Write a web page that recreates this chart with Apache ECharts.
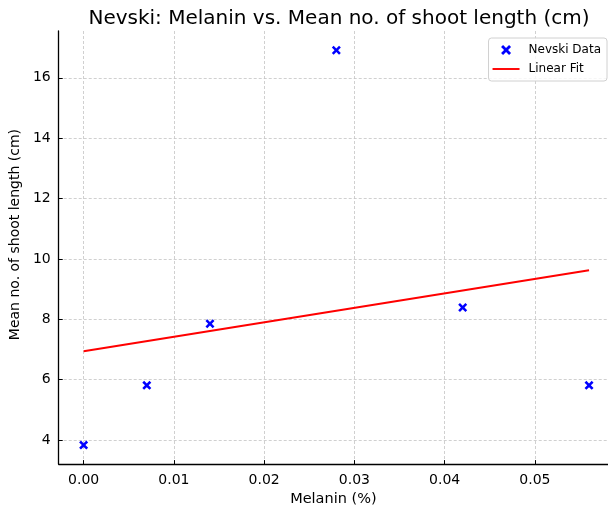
<!DOCTYPE html>
<html>
<head>
<meta charset="utf-8">
<script src="https://cdn.jsdelivr.net/npm/echarts@6/dist/echarts.min.js"></script>
<style>
	html, body { margin: 0; padding: 0; background: #fff; }
	#chart { width: 608px; height: 512px; }
</style>
</head>
<body>
<div id="chart"></div>
<script>
var melanin = [0, 0.007, 0.014, 0.028, 0.042, 0.056];
var shootLength = [3.83, 5.81, 7.85, 16.91, 8.39, 5.81];
var fitX = [0, 0.056];
var fitY = [6.94, 9.62];
var xTicks = [0, 0.01, 0.02, 0.03, 0.04, 0.05];
var yTicks = [4, 6, 8, 10, 12, 14, 16];

var font = 'DejaVu Sans';
var crossPath = 'path://M2,0L5,3L8,0L10,2L7,5L10,8L8,10L5,7L2,10L0,8L3,5L0,2Z';
var linePath = 'path://M0,0H28V2H0Z';

var mainChart = echarts.init(document.getElementById('chart'));

var gridLine = {
	show: true,
	lineStyle: { color: '#c4c4c4', type: [3, 2], width: 0.8 }
};

var chartOption = {
	animation: false,
	backgroundColor: '#fff',
	title: {
		text: 'Nevski: Melanin vs. Mean no. of shoot length (cm)',
		left: 334,
		textAlign: 'center',
		top: 4,
		textStyle: { fontFamily: font, fontSize: 20, fontWeight: 'normal', color: '#000' }
	},
	legend: {
		orient: 'vertical',
		right: 1,
		top: 38,
		padding: [6, 6, 6, 4],
		itemGap: 7,
		itemWidth: 27,
		itemHeight: 10,
		borderColor: '#d0d0d0',
		borderWidth: 1,
		borderRadius: 3,
		backgroundColor: 'rgba(255,255,255,0.8)',
		textStyle: { fontFamily: font, fontSize: 12, color: '#000', padding: [0, 0, 0, 4] },
		data: [
			{ name: 'Nevski Data', icon: crossPath },
			{ name: 'Linear Fit', icon: linePath }
		]
	},
	grid: {
		left: 56,
		right: 0,
		top: 31,
		bottom: 43,
		containLabel: false
	},
	xAxis: {
		type: 'value',
		min: -0.00276,
		max: 0.0581,
		name: 'Melanin (%)',
		nameLocation: 'middle',
		nameGap: 27,
		nameTextStyle: { fontFamily: font, fontSize: 14.5, color: '#000' },
		axisLine: { show: true, onZero: false, lineStyle: { color: '#000', width: 1.3 } },
		axisTick: { show: true, inside: true, length: 4, customValues: xTicks, lineStyle: { color: '#000' } },
		axisLabel: {
			customValues: xTicks,
			margin: 9,
			fontFamily: font, fontSize: 14, color: '#000',
			formatter: function (v) { return v.toFixed(2); }
		},
		splitLine: gridLine
	},
	yAxis: {
		type: 'value',
		min: 3.2,
		max: 17.55,
		name: 'Mean no. of shoot length (cm)',
		nameLocation: 'middle',
		nameGap: 36,
		nameTextStyle: { fontFamily: font, fontSize: 14, color: '#000', padding: [0, 0, 0, 26] },
		axisLine: { show: true, onZero: false, lineStyle: { color: '#000', width: 1.3 } },
		axisTick: { show: true, inside: true, length: 4, customValues: yTicks, lineStyle: { color: '#000' } },
		axisLabel: {
			customValues: yTicks,
			margin: 8,
			fontFamily: font, fontSize: 14, color: '#000'
		},
		splitLine: gridLine
	},
	series: [{
			name: 'Nevski Data',
			type: 'scatter',
			symbol: crossPath,
			symbolSize: 9,
			itemStyle: { color: '#0000ff', opacity: 1 },
			data: melanin.map(function (x, i) { return [x, shootLength[i]]; }),
			z: 3
		}, {
			name: 'Linear Fit',
			type: 'line',
			showSymbol: false,
			symbol: 'none',
			lineStyle: { color: '#ff0000', width: 2 },
			itemStyle: { color: '#ff0000' },
			data: fitX.map(function (x, i) { return [x, fitY[i]]; }),
			z: 2
		}
	]
};

mainChart.setOption(chartOption);
</script>
</body>
</html>
